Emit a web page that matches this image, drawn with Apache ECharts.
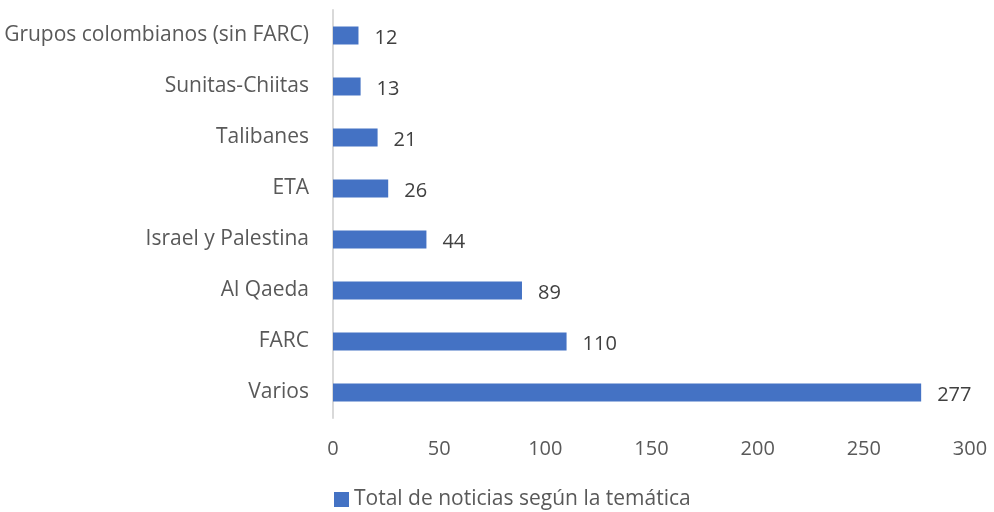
<!DOCTYPE html>
<html>
<head>
<meta charset="utf-8">
<script src="https://cdn.jsdelivr.net/npm/echarts@6/dist/echarts.min.js"></script>
<style>
  html, body { margin: 0; padding: 0; background: #fff; }
  #chart { width: 994px; height: 512px; }
</style>
</head>
<body>
<div id="chart"></div>
<script>
const categories = ['Varios', 'FARC', 'Al Qaeda', 'Israel y Palestina', 'ETA', 'Talibanes', 'Sunitas-Chiitas', 'Grupos colombianos (sin FARC)']
const values = [277, 110, 89, 44, 26, 21, 13, 12]
const seriesName = 'Total de noticias según la temática'

const font = 'Open Sans'
const chart = echarts.init(document.getElementById('chart'))
chart.setOption({
  animation: false,
  textStyle: { fontFamily: font },
  grid: { left: 333, right: 24, top: 10, bottom: 94 },
  legend: {
    bottom: -3,
    left: 329,
    itemWidth: 15,
    itemHeight: 15,
    itemGap: 6,
    icon: 'rect',
    textStyle: { color: '#595959', fontSize: 21, fontFamily: font, padding: [0, 0, 0, 0] },
    data: [seriesName]
  },
  xAxis: {
    type: 'value',
    min: 0,
    max: 300,
    interval: 50,
    axisLine: { show: false },
    axisTick: { show: false },
    splitLine: { show: false },
    axisLabel: { color: '#595959', fontSize: 20, margin: 21 }
  },
  yAxis: {
    type: 'category',
    data: categories,
    axisLine: { lineStyle: { color: '#d9d9d9', width: 2 } },
    axisTick: { show: false },
    axisLabel: { color: '#595959', fontSize: 21, margin: 24 }
  },
  series: [{
    name: seriesName,
    type: 'bar',
    data: values,
    barWidth: 18,
    itemStyle: { color: '#4472c4' },
    label: { show: true, position: 'right', distance: 16, color: '#404040', fontSize: 20, offset: [0, 3] }
  }]
})
</script>
</body>
</html>
